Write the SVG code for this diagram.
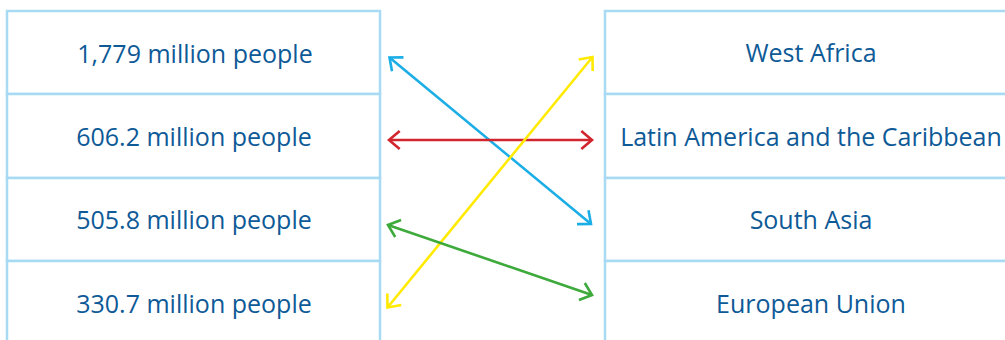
<svg xmlns="http://www.w3.org/2000/svg" width="1005" height="340" viewBox="0 0 1005 340">
  <style>
    .cell { fill: #ffffff; stroke: #A9DAF4; stroke-width: 2.5; }
    .lbl { font-family: "Open Sans", "Noto Sans", sans-serif; font-size: 25px; fill: #0E5A97; text-anchor: middle; }
    .arr { fill: none; stroke-width: 2.6; }
  </style>
  <defs>
    <marker id="mBlue" markerUnits="userSpaceOnUse" orient="auto-start-reverse" refX="0" refY="0" markerWidth="30" markerHeight="30" viewBox="-15 -15 30 30" overflow="visible">
      <path d="M -10.7 -9 L 0 0 L -10.7 9" fill="none" stroke="#1BAEE6" stroke-width="2.6"/>
    </marker>
    <marker id="mRed" markerUnits="userSpaceOnUse" orient="auto-start-reverse" refX="0" refY="0" markerWidth="30" markerHeight="30" viewBox="-15 -15 30 30" overflow="visible">
      <path d="M -10.7 -9 L 0 0 L -10.7 9" fill="none" stroke="#D2262E" stroke-width="2.6"/>
    </marker>
    <marker id="mYellow" markerUnits="userSpaceOnUse" orient="auto-start-reverse" refX="0" refY="0" markerWidth="30" markerHeight="30" viewBox="-15 -15 30 30" overflow="visible">
      <path d="M -10.7 -9 L 0 0 L -10.7 9" fill="none" stroke="#FFEA00" stroke-width="2.6"/>
    </marker>
    <marker id="mGreen" markerUnits="userSpaceOnUse" orient="auto-start-reverse" refX="0" refY="0" markerWidth="30" markerHeight="30" viewBox="-15 -15 30 30" overflow="visible">
      <path d="M -10.7 -9 L 0 0 L -10.7 9" fill="none" stroke="#3DAA3B" stroke-width="2.6"/>
    </marker>
  </defs>
  <rect width="1005" height="340" fill="#ffffff"/>

  <g id="left-1"><rect class="cell" x="7" y="11" width="373" height="83"/><text class="lbl" x="195" y="62.5">1,779 million people</text></g>
  <g id="left-2"><rect class="cell" x="7" y="94" width="373" height="84"/><text class="lbl" x="194" y="145.7">606.2 million people</text></g>
  <g id="left-3"><rect class="cell" x="7" y="178" width="373" height="83"/><text class="lbl" x="194" y="229.3">505.8 million people</text></g>
  <g id="left-4"><rect class="cell" x="7" y="261" width="373" height="90"/><text class="lbl" x="194" y="312.7">330.7 million people</text></g>

  <g id="right-1"><rect class="cell" x="605" y="11" width="420" height="83"/><text class="lbl" x="811" y="62.3">West Africa</text></g>
  <g id="right-2"><rect class="cell" x="605" y="94" width="420" height="84"/><text class="lbl" x="811" y="145.7">Latin America and the Caribbean</text></g>
  <g id="right-3"><rect class="cell" x="605" y="178" width="420" height="83"/><text class="lbl" x="811" y="228.5">South Asia</text></g>
  <g id="right-4"><rect class="cell" x="605" y="261" width="420" height="90"/><text class="lbl" x="811" y="312.7">European Union</text></g>

  <g id="connectors">
    <line class="arr" stroke="#1BAEE6" x1="389.5" y1="57.5" x2="591" y2="224" marker-start="url(#mBlue)" marker-end="url(#mBlue)"/>
    <line class="arr" stroke="#D2262E" x1="389" y1="140" x2="592" y2="140" marker-start="url(#mRed)" marker-end="url(#mRed)"/>
    <line class="arr" stroke="#FFEA00" x1="592.5" y1="57" x2="387.5" y2="307.5" marker-start="url(#mYellow)" marker-end="url(#mYellow)"/>
    <line class="arr" stroke="#3DAA3B" x1="388" y1="225" x2="592" y2="295" marker-start="url(#mGreen)" marker-end="url(#mGreen)"/>
  </g>
</svg>
